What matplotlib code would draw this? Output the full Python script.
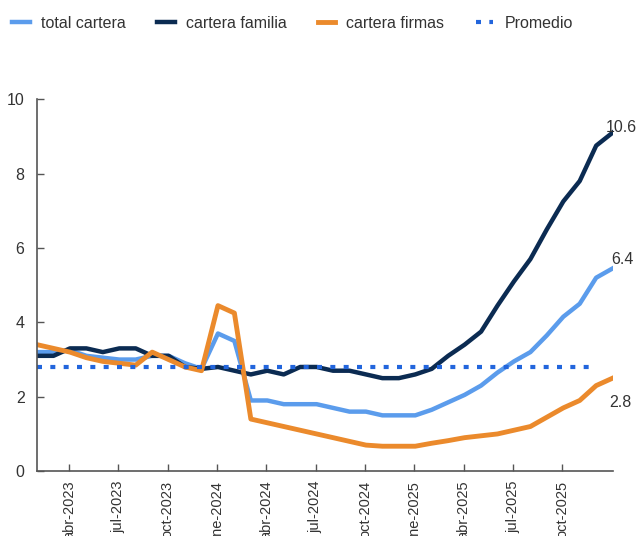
import matplotlib
matplotlib.use('Agg')
from matplotlib import pyplot as plt

plt.rcParams['font.family'] = ['Liberation Sans', 'DejaVu Sans']

# monthly series, ene-2023 .. dic-2025
total_cartera = [3.2, 3.2, 3.25, 3.1, 3.05, 3.0, 3.0, 3.1, 3.1, 2.9, 2.75, 3.7,
                 3.5, 1.9, 1.9, 1.8, 1.8, 1.8, 1.7, 1.6, 1.6, 1.5, 1.5, 1.5,
                 1.65, 1.85, 2.05, 2.3, 2.65, 2.95, 3.2, 3.65, 4.15, 4.5, 5.2, 5.45]
cartera_familia = [3.1, 3.1, 3.3, 3.3, 3.2, 3.3, 3.3, 3.1, 3.1, 2.8, 2.75, 2.8,
                   2.7, 2.6, 2.7, 2.6, 2.8, 2.8, 2.7, 2.7, 2.6, 2.5, 2.5, 2.6,
                   2.75, 3.1, 3.4, 3.75, 4.45, 5.1, 5.7, 6.5, 7.25, 7.8, 8.75, 9.1]
cartera_firmas = [3.4, 3.3, 3.2, 3.05, 2.95, 2.9, 2.85, 3.2, 3.0, 2.8, 2.7, 4.45,
                  4.25, 1.4, 1.3, 1.2, 1.1, 1.0, 0.9, 0.8, 0.7, 0.67, 0.67, 0.67,
                  0.75, 0.82, 0.9, 0.95, 1.0, 1.1, 1.2, 1.45, 1.7, 1.9, 2.3, 2.5]
promedio = 2.8
promedio_n = 35

tick_labels = ['abr-2023', 'jul-2023', 'oct-2023', 'ene-2024', 'abr-2024', 'jul-2024',
               'oct-2024', 'ene-2025', 'abr-2025', 'jul-2025', 'oct-2025']
end_labels = ['6.4', '10.6', '2.8']

c_total = '#5b9cec'
c_familia = '#0b2b52'
c_firmas = '#eb8a2c'
c_prom = '#2265dc'
c_text = '#333333'

fig = plt.figure(figsize=(6.39, 5.36), dpi=100)
ax = fig.add_axes([0.058, 0.121, 0.902, 0.694])

x = list(range(len(total_cartera)))
ax.plot(x, total_cartera, color=c_total, lw=3.2, label='total cartera')
ax.plot(x, cartera_familia, color=c_familia, lw=3.2, label='cartera familia')
ax.plot(x, cartera_firmas, color=c_firmas, lw=3.5, label='cartera firmas')
ax.plot(range(promedio_n), [promedio] * promedio_n, color=c_prom, lw=3,
        linestyle=(0, (1.2, 2.0)), label='Promedio')

# end labels
last = len(x) - 1
ax.text(last - 0.1, total_cartera[-1] + 0.05, end_labels[0], fontsize=11.5, color=c_text,
        ha='left', va='bottom')
ax.text(last - 0.4, cartera_familia[-1] + 0.15, end_labels[1], fontsize=11.5, color=c_text,
        ha='left', va='center')
ax.text(last - 0.2, cartera_firmas[-1] - 0.65, end_labels[2], fontsize=11.5, color=c_text,
        ha='left', va='center')

ax.set_xlim(0, last + 0.05)
ax.set_ylim(0, 10)
ax.set_yticks([0, 2, 4, 6, 8, 10])
ax.set_xticks([1.95 + 3 * k for k in range(len(tick_labels))])
ax.set_xticklabels(tick_labels, rotation=90, va='top', ha='center')

for s in ['top', 'right']:
    ax.spines[s].set_visible(False)
for s in ['left', 'bottom']:
    ax.spines[s].set_color('#555555')
    ax.spines[s].set_linewidth(1.2)
ax.tick_params(axis='y', direction='in', length=5, width=1, colors='#555555',
               labelcolor=c_text, labelsize=11.5, pad=9)
ax.tick_params(axis='x', direction='in', length=5, width=1, colors='#555555',
               labelcolor=c_text, labelsize=10.5, pad=7)

fig.legend(loc='upper left', bbox_to_anchor=(-0.003, 0.997), ncol=4, frameon=False,
           fontsize=11.5, handlelength=1.1, handletextpad=0.7, columnspacing=1.95,
           labelcolor=c_text)

fig.savefig('out.png', dpi=100)
